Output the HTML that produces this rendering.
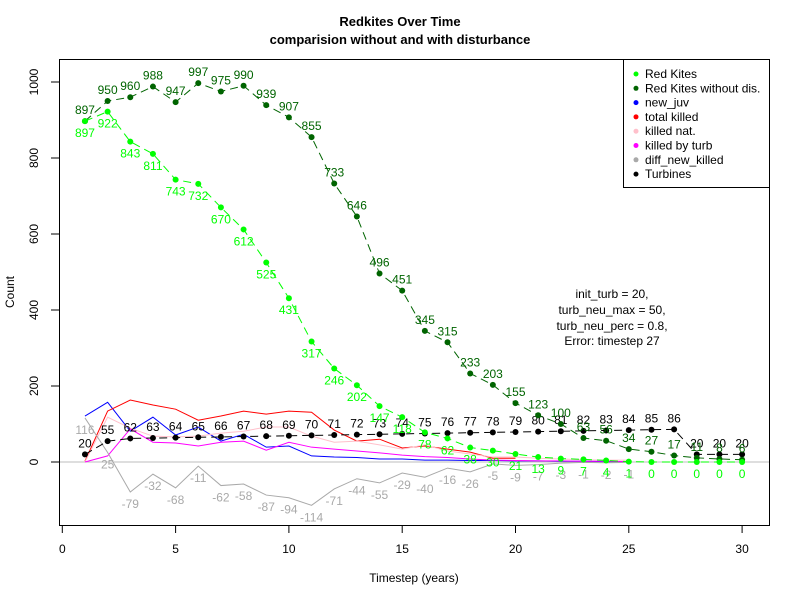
<!DOCTYPE html>
<html><head><meta charset="utf-8"><style>
body{margin:0;background:#fff}
svg text{font-family:"Liberation Sans",Arial,sans-serif}
</style></head><body>
<svg id="chart" width="800" height="600" viewBox="0 0 800 600" xmlns="http://www.w3.org/2000/svg">
<rect width="800" height="600" fill="#fff"/>
<g id="marks"></g>
</svg>
<script>
const steps=[1,2,3,4,5,6,7,8,9,10,11,12,13,14,15,16,17,18,19,20,21,22,23,24,25,26,27,28,29,30];
const redKites=[897,922,843,811,743,732,670,612,525,431,317,246,202,147,118,78,62,38,30,21,13,9,7,4,1,0,0,0,0,0];
const redKitesNoDis=[897,950,960,988,947,997,975,990,939,907,855,733,646,496,451,345,315,233,203,155,123,100,63,56,34,27,17,11,8,6];
const turbines=[20,55,62,63,64,65,66,67,68,69,70,71,72,73,74,75,76,77,78,79,80,81,82,83,84,85,86,20,20,20];
const newJuv=[121,157,81,118,71,92,55,73,39,42,16,13,12,8,8,5,5,4,4,3,3,2,2,1,1];
const totalKilled=[2,134,163,150,139,110,121,134,126,134,131,84,55,60,37,42,34,26,10,10];
const killedNat=[0,118,89,68,66,68,76,81,92,92,68,52,55,45,34,45,29,21,13,13,10,8,6,5,5];
const killedTurb=[0,16,87,52,50,42,52,55,31,52,39,34,29,24,18,14,12,8,5,4,3,3,2,2,1];
const diffNewKilled=[116,25,-79,-32,-68,-11,-62,-58,-87,-94,-114,-71,-44,-55,-29,-40,-16,-26,-5,-9,-7,-3,-1,-2,-1];
const xTicks=[0,5,10,15,20,25,30];
const yTicks=[0,200,400,600,800,1000];

const X=v=>62.3+v*22.66;
const Y=v=>462-v*0.38;
const g=document.getElementById('marks');
const NS='http://www.w3.org/2000/svg';
function mk(tag,attrs,parent){const e=document.createElementNS(NS,tag);for(const k in attrs)e.setAttribute(k,attrs[k]);(parent||g).appendChild(e);return e;}
function txt(x,y,s,attrs){const e=mk('text',Object.assign({x:x,y:y,'font-size':12,'text-anchor':'middle'},attrs||{}));e.textContent=s;return e;}

const zl=mk('line',{x1:60,x2:769,y1:Y(0),y2:Y(0),stroke:'#bebebe','stroke-width':1});



function series(vals,color,name,dash,points,labelPos,labelColor){
  const grp=mk('g',{});
  
  
  const pts=vals.map((v,i)=>X(steps[i])+','+Y(v)).join(' ');
  const pl=mk('polyline',{points:pts,fill:'none',stroke:color,'stroke-width':1,'stroke-dasharray':dash||'none'},grp);
  
  
  vals.forEach((v,i)=>{
    if(points){
      const c=mk('circle',{cx:X(steps[i]),cy:Y(v),r:3,fill:color},grp);
      
      
    }
    if(labelPos){
      const ty=labelPos==='above'?Y(v)-7:Y(v)+16;
      const t=txt(X(steps[i]),ty,String(v),{fill:labelColor||color});
      grp.appendChild(t);
      
      
    }
  });
}
series(newJuv,'#0000ff','new-juv-series');
series(totalKilled,'#ff0000','total-killed-series');
series(killedNat,'#ffc0cb','killed-nat-series');
series(killedTurb,'#ff00ff','killed-by-turb-series');
series(diffNewKilled,'#a9a9a9','diff-new-killed-series',null,false,'below','#a9a9a9');
series(turbines,'#000000','turbines-series','8,5',true,'above');
series(redKitesNoDis,'#006400','red-kites-without-dis-series','8,5',true,'above');
series(redKites,'#00ff00','red-kites-series','8,5',true,'below');

const fr=mk('rect',{x:59.5,y:59.5,width:710,height:466,fill:'none',stroke:'#000','stroke-width':1});


const xa=mk('g',{});


xTicks.forEach(t=>{
  mk('line',{x1:X(t),x2:X(t),y1:526,y2:533,stroke:'#000'},xa);
  const l=txt(X(t),553,String(t));xa.appendChild(l);
  
  
});
const ya=mk('g',{});


yTicks.forEach(t=>{
  mk('line',{x1:51,x2:59.5,y1:Y(t),y2:Y(t),stroke:'#000'},ya);
  const l=txt(38,Y(t),String(t),{transform:'rotate(-90 38 '+Y(t)+')'});ya.appendChild(l);
  
  
});
</script>
<svg style="position:absolute;left:0;top:0" width="800" height="600">
<g font-family="Liberation Sans, Arial, sans-serif" font-size="12" text-anchor="middle">
<text x="400" y="26" font-size="13" font-weight="bold">Redkites Over Time</text>
<text x="400" y="44" font-size="13" font-weight="bold">comparision without and with disturbance</text>
<text x="414" y="582">Timestep (years)</text>
<text x="14" y="292" transform="rotate(-90 14 292)">Count</text>
<g>
<text x="612" y="298">init_turb = 20,</text>
<text x="612" y="314">turb_neu_max = 50,</text>
<text x="612" y="330">turb_neu_perc = 0.8,</text>
<text x="612" y="345">Error: timestep 27</text>
</g>
</g>
<g font-family="Liberation Sans, Arial, sans-serif" font-size="12">
<rect x="623.5" y="59.5" width="146" height="128" fill="#fff" stroke="#000"/>
<g><circle cx="636" cy="74" r="2.5" fill="#00ff00"/><text x="645" y="78">Red Kites</text></g>
<g><circle cx="636" cy="88.3" r="2.5" fill="#006400"/><text x="645" y="92.3">Red Kites without dis.</text></g>
<g><circle cx="636" cy="102.6" r="2.5" fill="#0000ff"/><text x="645" y="106.6">new_juv</text></g>
<g><circle cx="636" cy="116.9" r="2.5" fill="#ff0000"/><text x="645" y="120.9">total killed</text></g>
<g><circle cx="636" cy="131.2" r="2.5" fill="#ffc0cb"/><text x="645" y="135.2">killed nat.</text></g>
<g><circle cx="636" cy="145.5" r="2.5" fill="#ff00ff"/><text x="645" y="149.5">killed by turb</text></g>
<g><circle cx="636" cy="159.8" r="2.5" fill="#a9a9a9"/><text x="645" y="163.8">diff_new_killed</text></g>
<g><circle cx="636" cy="174.1" r="2.5" fill="#000"/><text x="645" y="178.1">Turbines</text></g>
</g>
</svg>
</body></html>
